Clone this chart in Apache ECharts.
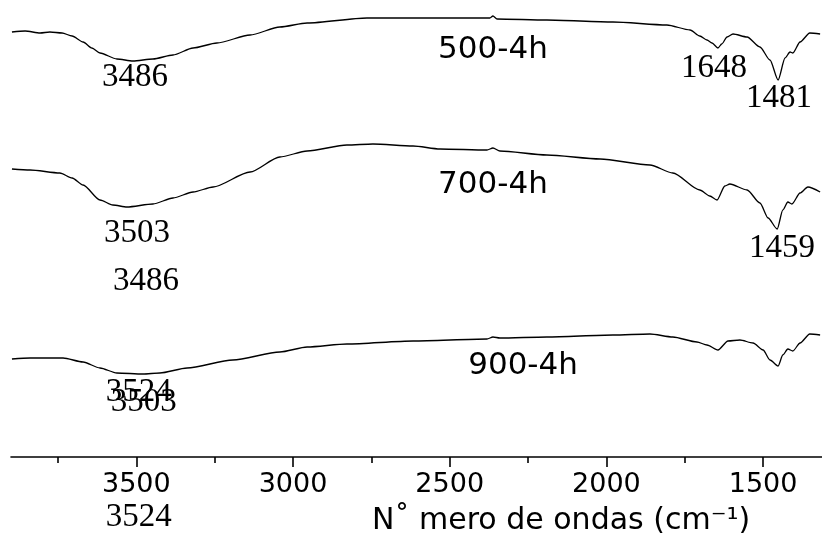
<!DOCTYPE html>
<html>
<head>
<meta charset="utf-8">
<script src="https://cdn.jsdelivr.net/npm/echarts@6/dist/echarts.min.js"></script>
<style>html,body{margin:0;padding:0;background:#fff}#c{width:822px;height:538px}</style>
</head>
<body>
<div id="c"></div>
<script>
// Wavenumbers (cm^-1) and transmittance (arbitrary units, offset) for each sample
const wn500 = [3897,3855,3807,3776,3737,3705,3670,3642,3616,3562,3511,3447,3383,3319,3243,3137,3042,2955,2764,2553,2372,2362,2349,2190,1979,1807,1733,1702,1679,1663,1644,1632,1615,1596,1551,1510,1478,1452,1430,1414,1405,1382,1351,1318];
const t500  = [425,426,424,425,424,421,415,409,404,398,396,398,402,409,414,422,430,434,439,439,439,441,438,437,435,432,427,421,417,414,409,413,420,423,420,410,397,377,399,405,404,415,424,423];

const wn700 = [3897,3839,3744,3705,3670,3616,3575,3530,3447,3383,3319,3255,3137,3042,2955,2828,2745,2617,2531,2381,2362,2340,2190,2020,1861,1788,1702,1670,1647,1622,1606,1551,1510,1484,1455,1437,1421,1408,1382,1357,1318];
const t700  = [288,287,284,279,272,257,252,250,253,259,265,270,285,300,306,312,313,311,308,307,309,306,302,298,292,284,267,261,257,271,273,267,254,239,228,247,255,253,264,270,265];

const wn900 = [3897,3839,3734,3670,3616,3562,3479,3425,3338,3192,3042,2955,2828,2617,2381,2362,2340,2190,1979,1861,1788,1711,1679,1644,1612,1574,1532,1500,1478,1452,1437,1421,1405,1382,1351,1318];
const t900  = [98,99,99,95,89,84,83,84,89,97,105,110,113,116,118,120,119,120,122,123,120,115,112,107,116,117,114,107,97,91,102,108,106,114,123,122];

// Axis ticks
const majorTicks = [1500, 2000, 2500, 3000, 3500];
const minorTicks = [1750, 2250, 2750, 3250, 3750];

// Annotations
const sampleNames = ['500-4h','700-4h','900-4h'];
const sampleWn    = [2362, 2362, 2266];
const sampleY     = [407, 272, 91];

const peakTexts = ['3486','1648','1481','3503','3486','1459','3524','3503','3524'];
const peakWn    = [3504, 1657, 1449, 3498, 3469, 1440, 3492, 3476, 3492];
const peakY     = [380, 389, 359, 224, 176, 209, 65, 55, -60];

const xTitle = 'N\u02DA mero de ondas (cm\u207B\u00B9)';

const zip = (a, b) => a.map((v, i) => [v, b[i]]);

const chart = echarts.init(document.getElementById('c'), null, {renderer: 'canvas'});
const lineStyle = {color: '#000', width: 1.3};
const lineSeries = (name, x, y) => ({
  name, type: 'line', data: zip(x, y), showSymbol: false, symbol: 'none',
  smooth: 0.25, smoothMonotone: 'x', lineStyle, silent: true, z: 3
});

const X_MIN = 1312, X_MAX = 3900;

const labelBase = {show: true, position: [0, 0], align: 'center', verticalAlign: 'middle',
  formatter: p => p.name, color: '#000', opacity: 1};

chart.setOption({
  animation: false,
  backgroundColor: '#fff',
  grid: {left: 11, right: 0, top: 0, bottom: 81, containLabel: false},
  xAxis: [{
    type: 'value', inverse: true, min: X_MIN, max: X_MAX,
    axisLine: {show: true, lineStyle: {color: '#000', width: 1.6}},
    axisTick: {show: true, length: 10, customValues: majorTicks, lineStyle: {color: '#000', width: 1.6}},
    splitLine: {show: false},
    axisLabel: {color: '#000', fontFamily: 'DejaVu Sans', fontSize: 27, margin: 14,
      customValues: majorTicks, formatter: v => String(v)}
  }, {
    type: 'value', inverse: true, min: X_MIN, max: X_MAX, position: 'bottom',
    axisLine: {show: false},
    axisTick: {show: true, length: 6, customValues: minorTicks, lineStyle: {color: '#000', width: 1.6}},
    axisLabel: {show: false},
    splitLine: {show: false}
  }],
  yAxis: {type: 'value', min: 0, max: 457, show: false},
  graphic: [
    {type: 'text', x: 372, y: 521, style: {text: xTitle, fill: '#000',
      font: '30px "DejaVu Sans"', verticalAlign: 'middle', align: 'left'}, z: 100}
  ],
  series: [
    lineSeries('500-4h', wn500, t500),
    lineSeries('700-4h', wn700, t700),
    lineSeries('900-4h', wn900, t900),
    {
      type: 'scatter', symbolSize: 0, clip: false, silent: true,
      data: sampleNames.map((n, i) => ({name: n, value: [sampleWn[i], sampleY[i]]})),
      label: Object.assign({}, labelBase, {fontFamily: 'DejaVu Sans', fontSize: 31})
    },
    {
      type: 'scatter', symbolSize: 0, clip: false, silent: true,
      data: peakTexts.map((n, i) => ({name: n, value: [peakWn[i], peakY[i]]})),
      label: Object.assign({}, labelBase, {fontFamily: '"Liberation Serif", "Times New Roman", serif', fontSize: 33})
    }
  ]
});
</script>
</body>
</html>
